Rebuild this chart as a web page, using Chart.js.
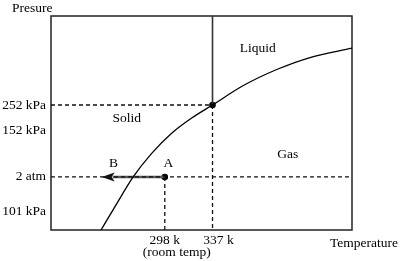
<!DOCTYPE html>
<html><head><meta charset="utf-8">
<script src="https://cdn.jsdelivr.net/npm/chart.js@4.4.1/dist/chart.umd.min.js"></script>
<style>html,body{margin:0;padding:0;background:#fff}#wrap{width:400px;height:261px}</style>
</head><body><div id="wrap"><canvas id="c" width="400" height="261"></canvas></div>
<script>
// ---- data (schematic phase diagram) ----
const curveTemps  = [245.9, 257.3, 272.3, 287.3, 303.6, 320.0, 337, 362.2, 389.5, 416.7, 451];
const curveLevels = [0, 10.9, 24.9, 35.8, 45.2, 52.3, 58.4, 67.5, 75.0, 80.6, 85.0];
const yTickLabels = ['252 kPa', '152 kPa', '2 atm', '101 kPa'];
const yTickLevels = [58.4, 46.3, 24.8, 8.9];
const xTickLabels = ['298 k', '337 k'];
const xTickTemps  = [298, 337];
const roomTemp = 298, roomLevel = 24.8;      // point A (298 k, 2 atm)
const tripleTemp = 337, tripleLevel = 58.4;  // point (337 k, 252 kPa)
const arrowEndTemp = 246.4;                  // point B direction
const X_MIN = 205, X_MAX = 451, Y_MIN = 0, Y_MAX = 100;

const FONT = '"Liberation Serif", "Times New Roman", serif';
const FS = 13.5;
const xy = (xs, ys) => xs.map((x, i) => ({x, y: ys[i]}));
const dashed = (data) => ({data, showLine: true, borderColor: '#111', borderWidth: 1.3,
  borderDash: [4, 3], pointRadius: 0, fill: false});

const overlay = {
  id: 'overlay',
  beforeDatasetsDraw(chart) {
    const {ctx, chartArea: a} = chart;
    ctx.save();
    ctx.strokeStyle = '#222';
    ctx.lineWidth = 1.5;
    ctx.strokeRect(a.left, a.top, a.right - a.left, a.bottom - a.top);
    ctx.restore();
  },
  afterDatasetsDraw(chart) {
    const {ctx, scales: {x, y}} = chart;
    ctx.save();
    // arrowhead at B end
    const tx = x.getPixelForValue(arrowEndTemp), ty = y.getPixelForValue(roomLevel);
    ctx.fillStyle = '#111';
    ctx.beginPath();
    ctx.moveTo(tx, ty);
    ctx.lineTo(tx + 13, ty - 4.5);
    ctx.lineTo(tx + 10, ty);
    ctx.lineTo(tx + 13, ty + 4.5);
    ctx.closePath();
    ctx.fill();
    // region / point labels
    ctx.fillStyle = '#000';
    ctx.font = FS + 'px ' + FONT;
    ctx.textAlign = 'center';
    ctx.textBaseline = 'middle';
    const labels = [['Solid', 267, 52.3], ['Liquid', 374, 85.0], ['Gas', 398.5, 35.5],
                    ['B', 256, 31.2], ['A', 301, 31.2]];
    labels.forEach(([t, vx, vy]) => ctx.fillText(t, x.getPixelForValue(vx), y.getPixelForValue(vy)));
    // x tick labels
    const p298 = x.getPixelForValue(xTickTemps[0]);
    const p337 = x.getPixelForValue(xTickTemps[1]);
    ctx.fillText(xTickLabels[0], p298, 240);
    ctx.fillText('(room temp)', p298 + 12, 252);
    ctx.fillText(xTickLabels[1], p337 + 6, 240);
    // axis titles
    ctx.textAlign = 'left';
    ctx.fillText('Presure', 12, 8);
    ctx.fillText('Temperature', 330, 243);
    ctx.restore();
  }
};

new Chart(document.getElementById('c'), {
  type: 'scatter',
  data: {datasets: [
    {data: xy(curveTemps, curveLevels), showLine: true, borderColor: '#000', borderWidth: 1.3,
     pointRadius: 0, cubicInterpolationMode: 'monotone', fill: false},
    {data: [{x: tripleTemp, y: Y_MAX}, {x: tripleTemp, y: tripleLevel}], showLine: true,
     borderColor: '#333', borderWidth: 1.6, pointRadius: 0},
    dashed([{x: tripleTemp, y: tripleLevel}, {x: tripleTemp, y: Y_MIN}]),
    dashed([{x: X_MIN, y: tripleLevel}, {x: tripleTemp, y: tripleLevel}]),
    dashed([{x: X_MIN, y: roomLevel}, {x: X_MAX, y: roomLevel}]),
    dashed([{x: roomTemp, y: roomLevel}, {x: roomTemp, y: Y_MIN}]),
    {data: [{x: roomTemp, y: roomLevel}, {x: arrowEndTemp + 9, y: roomLevel}], showLine: true,
     borderColor: '#555', borderWidth: 2.6, pointRadius: 0},
    {data: [{x: roomTemp, y: roomLevel}, {x: tripleTemp, y: tripleLevel}], showLine: false,
     pointRadius: 3.3, backgroundColor: '#000', borderColor: '#000', borderWidth: 0}
  ]},
  options: {
    responsive: false, animation: false,
    layout: {padding: {top: 16, right: 48, left: 0, bottom: 0}},
    plugins: {legend: {display: false}, tooltip: {enabled: false}},
    scales: {
      x: {type: 'linear', min: X_MIN, max: X_MAX,
          grid: {display: false, drawTicks: false}, border: {display: false},
          ticks: {display: false}, afterFit(s) { s.height = 31; }},
      y: {type: 'linear', min: Y_MIN, max: Y_MAX,
          grid: {display: false, drawTicks: false}, border: {display: false},
          afterBuildTicks(s) { s.ticks = yTickLevels.map(v => ({value: v})); },
          ticks: {autoSkip: false, padding: 5, color: '#000', font: {family: FONT, size: FS},
                  callback: (v) => yTickLabels[yTickLevels.indexOf(v)]},
          afterFit(s) { s.width = 51; }}
    }
  },
  plugins: [overlay]
});
</script></body></html>
